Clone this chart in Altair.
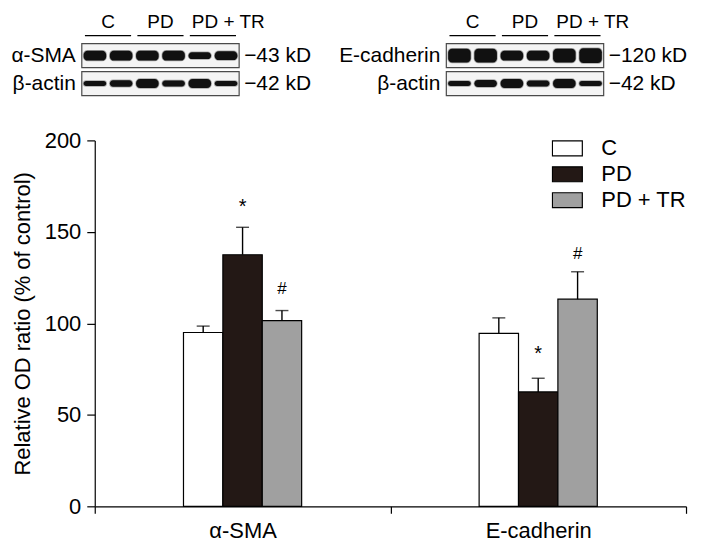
import altair as alt
import pandas as pd

FONT = "Liberation Sans"

# ---------------- bar chart data ----------------
targets = ["α-SMA", "E-cadherin"]
groups = ["C", "PD", "PD + TR"]
sma_mean = [95.0, 137.5, 101.5]
sma_err = [3.5, 15.0, 5.5]
ecad_mean = [94.5, 62.5, 113.2]
ecad_err = [8.5, 7.5, 15.0]
sma_marks = ["", "*", "#"]
ecad_marks = ["", "*", "#"]
sma_mark_level = [0, 160.3, 116.3]
ecad_mark_level = [0, 79.9, 135.4]
bar_colors = ["#ffffff", "#231815", "#a0a0a0"]

# ---------------- western blot data ----------------
blot_targets = ["α-SMA", "E-cadherin"]
blot_sizes = ["−43 kD", "−120 kD"]
actin_label = "β-actin"
actin_size = "−42 kD"
sma_band = [10, 10, 10, 10, 7, 9]
sma_actin_band = [5, 6.5, 9, 6, 9, 5]
ecad_band = [14, 14, 10, 10, 14, 15]
ecad_actin_band = [5, 7, 9, 6, 9, 5]

# ---------------- bar chart ----------------
rows = []
for t, means, errs, marks, levels in [
    (targets[0], sma_mean, sma_err, sma_marks, sma_mark_level),
    (targets[1], ecad_mean, ecad_err, ecad_marks, ecad_mark_level),
]:
    for g, m, e, mk, lv in zip(groups, means, errs, marks, levels):
        rows.append({"target": t, "group": g, "mean": m, "upper": m + e,
                     "mark": mk, "level": lv})
bars_df = pd.DataFrame(rows)

# empty slots on both sides of each group of three bars
offset_domain = ["_a", "_b"] + groups + ["_c", "_d"]

x_enc = alt.X("target:N", sort=targets,
              scale=alt.Scale(paddingInner=0, paddingOuter=0),
              axis=alt.Axis(title=None, labelAngle=0, tickBand="extent",
                            tickSize=7, labelPadding=7, labelFontSize=22,
                            labelFont=FONT, labelColor="black",
                            domainColor="black", tickColor="black",
                            domainWidth=1.2, tickWidth=1.2))
xo_enc = alt.XOffset("group:N",
                     scale=alt.Scale(domain=offset_domain, paddingInner=0,
                                     paddingOuter=0.253))
y_axis = alt.Axis(values=[0, 50, 100, 150, 200], tickSize=8, labelPadding=6,
                  labelFontSize=22, labelFont=FONT, labelColor="black",
                  title="Relative OD ratio (% of control)", titleFontSize=22,
                  titleFont=FONT, titleFontWeight="normal", titleColor="black",
                  titlePadding=10, grid=False, domainColor="black",
                  tickColor="black", domainWidth=1.2, tickWidth=1.2)
y_scale = alt.Scale(domain=[0, 200], nice=False)

base = alt.Chart(bars_df)

bars = base.mark_bar(stroke="black", strokeWidth=1.2).encode(
    x=x_enc, xOffset=xo_enc,
    y=alt.Y("mean:Q", scale=y_scale, axis=y_axis),
    fill=alt.Fill("group:N", sort=groups,
                  scale=alt.Scale(domain=groups, range=bar_colors),
                  legend=alt.Legend(title=None, orient="none", legendX=458,
                                    legendY=126,
                                    symbolType="M-1,-0.5H1V0.5H-1Z",
                                    symbolSize=900, symbolStrokeColor="black",
                                    symbolStrokeWidth=1.2, symbolOpacity=1,
                                    labelFontSize=22, labelFont=FONT,
                                    labelColor="black", labelOffset=18,
                                    clipHeight=22, rowPadding=4, padding=0)),
)

err_rule = base.mark_rule(color="black", strokeWidth=1.4).encode(
    x=x_enc, xOffset=xo_enc,
    y=alt.Y("mean:Q", scale=y_scale), y2="upper:Q")

err_cap = base.mark_tick(color="black", thickness=1.4, size=13).encode(
    x=x_enc, xOffset=xo_enc, y=alt.Y("upper:Q", scale=y_scale))

annot_star = base.transform_filter("datum.mark == '*'").mark_text(
    font=FONT, fontSize=20, baseline="alphabetic", color="black").encode(
    x=x_enc, xOffset=xo_enc, y=alt.Y("level:Q", scale=y_scale), text="mark:N")

annot_hash = base.transform_filter("datum.mark == '#'").mark_text(
    font=FONT, fontSize=17, baseline="alphabetic", color="black").encode(
    x=x_enc, xOffset=xo_enc, y=alt.Y("level:Q", scale=y_scale), text="mark:N")

bar_chart = alt.layer(bars, err_rule, err_cap, annot_star, annot_hash).properties(
    width=593, height=367)

# ---------------- western blot panel ----------------
ROW_PX = 28.0
LANE_OFFSETS = [0.0, 13.9]
box_rows, band_rows, head_rows, lab_rows = [], [], [], []
for b, (tgt, size, pband, aband) in enumerate(zip(
        blot_targets, blot_sizes, [sma_band, ecad_band],
        [sma_actin_band, ecad_actin_band])):
    off = LANE_OFFSETS[b]
    left, right = 0.5 + off, 6.5 + off
    for r, (lab, sz, th) in enumerate([(tgt, size, pband),
                                       (actin_label, actin_size, aband)]):
        yr = 1 + r
        box_rows.append({"x": left, "x2": right, "y": yr - 0.43, "y2": yr + 0.43})
        lab_rows.append({"xl": left, "xr": right, "y": yr, "name": lab, "size": sz})
        for i, t in enumerate(th):
            lane = i + 1 + off
            band_rows.append({"x": lane - 0.43, "x2": lane + 0.43,
                              "y": yr - t / 2 / ROW_PX, "y2": yr + t / 2 / ROW_PX})
    for k, g in enumerate(groups):
        a = 2 * k + 1 + off
        head_rows.append({"x": a - 0.5 + 0.12, "x2": a + 1.5 - 0.12,
                          "xc": a + 0.5, "label": g, "last": k == len(groups) - 1})

box_df = pd.DataFrame(box_rows)
band_df = pd.DataFrame(band_rows)
head_df = pd.DataFrame(head_rows)
lab_df = pd.DataFrame(lab_rows)

bx = alt.Scale(domain=[0.994, 23.54], nice=False, zero=False)
by = alt.Scale(domain=[-0.571, 2.429], nice=False, zero=False, reverse=True)

boxes = alt.Chart(box_df).mark_rect(fill="#f4f4f4", stroke="#4a4a4a",
                                    strokeWidth=1.2).encode(
    x=alt.X("x:Q", scale=bx, axis=None), x2="x2:Q",
    y=alt.Y("y:Q", scale=by, axis=None), y2="y2:Q")

bands = alt.Chart(band_df).mark_rect(fill="#111111", cornerRadius=4,
                                     stroke="#111111", strokeOpacity=0.35,
                                     strokeWidth=1.5).encode(
    x=alt.X("x:Q", scale=bx, axis=None), x2="x2:Q",
    y=alt.Y("y:Q", scale=by, axis=None), y2="y2:Q")

head_lines = alt.Chart(head_df).mark_rule(color="black", strokeWidth=1.2).encode(
    x=alt.X("x:Q", scale=bx, axis=None), x2="x2:Q",
    y=alt.Y("hy:Q", scale=by, axis=None)).transform_calculate(hy="0.286")

head_text_c = alt.Chart(head_df).transform_filter("!datum.last").mark_text(
    font=FONT, fontSize=19, baseline="middle", color="black").encode(
    x=alt.X("xc:Q", scale=bx, axis=None),
    y=alt.Y("ty:Q", scale=by, axis=None), text="label:N").transform_calculate(
    ty="-0.214")

head_text_l = alt.Chart(head_df).transform_filter("datum.last").mark_text(
    font=FONT, fontSize=19, baseline="middle", align="left", dx=2,
    color="black").encode(
    x=alt.X("x:Q", scale=bx, axis=None),
    y=alt.Y("ty:Q", scale=by, axis=None), text="label:N").transform_calculate(
    ty="-0.214")

row_labels = alt.Chart(lab_df).mark_text(font=FONT, fontSize=21, align="right",
                                         baseline="middle", dx=-6,
                                         color="black").encode(
    x=alt.X("xl:Q", scale=bx, axis=None),
    y=alt.Y("y:Q", scale=by, axis=None), text="name:N")

size_labels = alt.Chart(lab_df).mark_text(font=FONT, fontSize=21, align="left",
                                          baseline="middle", dx=5,
                                          color="black").encode(
    x=alt.X("xr:Q", scale=bx, axis=None),
    y=alt.Y("y:Q", scale=by, axis=None), text="size:N")

blot_panel = alt.layer(boxes, bands, head_lines, head_text_c, head_text_l,
                       row_labels, size_labels).properties(width=593, height=84)

chart = alt.vconcat(blot_panel, bar_chart, spacing=33).resolve_scale(
    x="independent", y="independent").properties(
    padding={"left": 3, "top": 3, "right": 5, "bottom": 0}
).configure(background="white").configure_view(stroke=None)

chart.save("out.html", embed_options={"renderer": "svg", "actions": False})
